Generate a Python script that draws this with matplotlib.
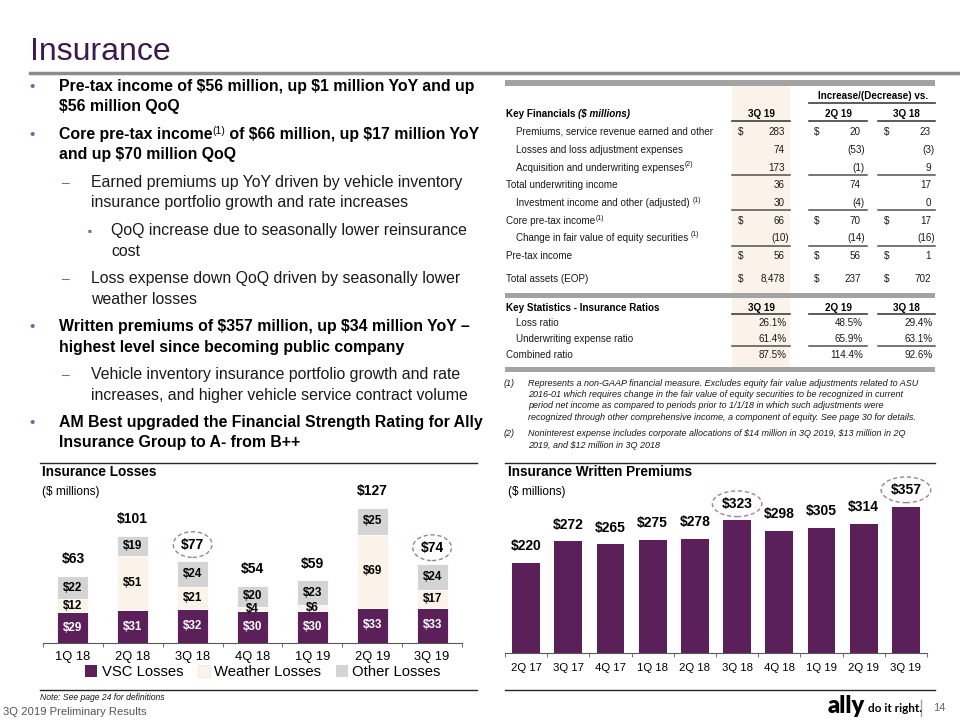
import matplotlib.pyplot as plt
import numpy as np
from matplotlib.lines import Line2D
from matplotlib.patches import Rectangle, Patch

plt.rcParams['font.family'] = ['Liberation Sans', 'DejaVu Sans']
plt.rcParams['text.parse_math'] = False

# --- data -------------------------------------------------------------
loss_q = ['1Q 18', '2Q 18', '3Q 18', '4Q 18', '1Q 19', '2Q 19', '3Q 19']
vsc_losses = np.array([29, 31, 32, 30, 30, 33, 33])
weather_losses = np.array([12, 51, 21, 4, 6, 69, 17])
other_losses = np.array([22, 19, 24, 20, 23, 25, 24])

wp_q = ['2Q 17', '3Q 17', '4Q 17', '1Q 18', '2Q 18', '3Q 18', '4Q 18', '1Q 19', '2Q 19', '3Q 19']
written_prem = [220, 272, 265, 275, 278, 323, 298, 305, 314, 357]

fin_labels = ['Premiums, service revenue earned and other', 'Losses and loss adjustment expenses',
              'Acquisition and underwriting expenses', 'Total underwriting income',
              'Investment income and other (adjusted) ', 'Core pre-tax income',
              'Change in fair value of equity securities ', 'Pre-tax income', 'Total assets (EOP)']
fin_sup = ['', '', '(2)', '', '(1)', '(1)', '(1)', '', '']
fin_indent = [1, 1, 1, 0, 1, 0, 1, 0, 0]
fin_dollar = [1, 0, 0, 0, 0, 1, 0, 1, 1]
fin_3q19 = ['283', '74', '173', '36', '30', '66', '(10)', '56', '8,478']
fin_vs_2q19 = ['20', '(53)', '(1)', '74', '(4)', '70', '(14)', '56', '237']
fin_vs_3q18 = ['23', '(3)', '9', '17', '0', '17', '(16)', '1', '702']

stat_labels = ['Loss ratio', 'Underwriting expense ratio', 'Combined ratio']
stat_indent = [1, 1, 0]
stat_3q19 = [26.1, 61.4, 87.5]
stat_2q19 = [48.5, 65.9, 114.4]
stat_3q18 = [29.4, 63.1, 92.6]

purple = '#5B1F5A'
beige = '#FBF3EA'
grey = '#D4D4D4'
blue = '#5470A8'
ring = '#A57BA5'

fig = plt.figure(figsize=(9.6, 7.2), dpi=100)
W, H = 960, 720
renderer = fig.canvas.get_renderer()


def text(x, y, s, **kw):
    kw.setdefault('va', 'center')
    return fig.text(x / W, 1 - y / H, s, **kw)


def hline(x0, x1, y, **kw):
    fig.add_artist(Line2D([x0 / W, x1 / W], [1 - y / H] * 2, transform=fig.transFigure, **kw))


def box(x0, y0, x1, y1, color):
    fig.add_artist(Rectangle((x0 / W, 1 - y1 / H), (x1 - x0) / W, (y1 - y0) / H,
                             transform=fig.transFigure, color=color, lw=0, zorder=0))


def runs(x, y, parts):
    # draw pieces of text one after the other (for superscripts)
    for s, kw in parts:
        kw = dict(kw)
        dy = kw.pop('dy', 0)
        t = text(x, y + dy, s, **kw)
        x += t.get_window_extent(renderer).width


# --- title ------------------------------------------------------------
text(30, 60, 'Insurance', fontsize=23, color='#3B1B4A', va='baseline')
hline(30, 960, 73, color='#8C8C8C', lw=2.5)

# --- bullets ----------------------------------------------------------
bold = dict(fontsize=11.45, fontweight='bold', color='black')
reg = dict(fontsize=11.4, color='#1A1A1A')


def bullet(y, kind):
    if kind == 0:
        text(32, y, '•', fontsize=11, color=blue, ha='center')
    elif kind == 1:
        text(66, y, '–', fontsize=10, color=blue, ha='center')
    else:
        text(89, y, '■', fontsize=4.5, color=blue, ha='center')


bullet(87, 0)
text(59, 87, 'Pre-tax income of $56 million, up $1 million YoY and up', **bold)
text(59, 107, '$56 million QoQ', **bold)
bullet(135, 0)
runs(59, 135, [('Core pre-tax income', bold),
               ('(1)', dict(fontsize=7.5, color='black', dy=-4)),
               (' of $66 million, up $17 million YoY', bold)])
text(59, 155, 'and up $70 million QoQ', **bold)
bullet(183, 1)
text(91, 183, 'Earned premiums up YoY driven by vehicle inventory', **reg)
text(91, 203, 'insurance portfolio growth and rate increases', **reg)
bullet(231, 2)
text(111, 231, 'QoQ increase due to seasonally lower reinsurance', **reg)
text(111, 251, 'cost', **reg)
bullet(279, 1)
text(91, 279, 'Loss expense down QoQ driven by seasonally lower', **reg)
text(91, 299, 'weather losses', **reg)
bullet(327, 0)
text(59, 327, 'Written premiums of $357 million, up $34 million YoY –', **bold)
text(59, 347, 'highest level since becoming public company', **bold)
bullet(375, 1)
text(91, 375, 'Vehicle inventory insurance portfolio growth and rate', **reg)
text(91, 395, 'increases, and higher vehicle service contract volume', **reg)
bullet(423, 0)
text(59, 423, 'AM Best upgraded the Financial Strength Rating for Ally', **bold)
text(59, 443, 'Insurance Group to A- from B++', **bold)

# --- table ------------------------------------------------------------
tfs = 7.1
tk = dict(fontsize=tfs, color='#1A1A1A')
tb = dict(fontsize=tfs, color='black', fontweight='bold')
box(505, 80, 935, 86, '#A3A3A3')
box(505, 293, 935, 298, '#A3A3A3')
box(505, 367, 935, 372, '#A3A3A3')
box(732, 86, 790, 293, beige)
box(732, 298, 790, 367, beige)

cols_r = [785, 861, 931]
cols_d = [741, 817, 887]
cols_u = [(732, 790), (809, 867), (878, 935)]

text(873, 96, 'Increase/(Decrease) vs.', ha='center', **tb)
hline(809, 935, 103, color='#404040', lw=1.2)
runs(506, 114, [('Key Financials ', tb), ('($ millions)', dict(tb, style='italic'))])
for (u0, u1), q in zip(cols_u, ['3Q 19', '2Q 19', '3Q 18']):
    text((u0 + u1) / 2, 114, q, ha='center', **tb)
    hline(u0, u1, 121, color='#404040', lw=1.2)

row_y = [132, 150, 168, 185, 203, 221, 238, 256, 279]
for i, lab in enumerate(fin_labels):
    y = row_y[i]
    parts = [(lab, tk)]
    if fin_sup[i]:
        parts.append((fin_sup[i], dict(fontsize=5, color='#1A1A1A', dy=-3)))
    runs(516 if fin_indent[i] else 506, y, parts)
    for xr, xd, v in zip(cols_r, cols_d, [fin_3q19[i], fin_vs_2q19[i], fin_vs_3q18[i]]):
        text(xr + (3.5 if v.endswith(')') else 0), y, v, ha='right', **tk)
        if fin_dollar[i]:
            text(xd, y, '$', ha='center', **tk)
for y in [175, 210, 246]:
    for u0, u1 in cols_u:
        hline(u0, u1, y, color='#505050', lw=1.1)

text(506, 308, 'Key Statistics - Insurance Ratios', **tb)
for (u0, u1), q in zip(cols_u, ['3Q 19', '2Q 19', '3Q 18']):
    text((u0 + u1) / 2, 308, q, ha='center', **tb)
    hline(u0, u1, 314, color='#404040', lw=1.2)
for i, lab in enumerate(stat_labels):
    y = [323, 339, 355][i]
    text(516 if stat_indent[i] else 506, y, lab, **tk)
    for xr, v in zip(cols_r, [stat_3q19[i], stat_2q19[i], stat_3q18[i]]):
        text(xr + 2, y, f'{v:.1f}%', ha='right', **tk)
for u0, u1 in cols_u:
    hline(u0, u1, 346, color='#505050', lw=1.1)

fn = dict(fontsize=6.5, style='italic', color='#1A1A1A')
text(504, 383, '(1)', **fn)
for k, s in enumerate(['Represents a non-GAAP financial measure. Excludes equity fair value adjustments related to ASU',
                       '2016-01 which requires change in the fair value of equity securities to be recognized in current',
                       'period net income as compared to periods prior to 1/1/18 in which such adjustments were',
                       'recognized through other comprehensive income, a component of equity. See page 30 for details.']):
    text(528, 383 + 11.5 * k, s, **fn)
text(504, 433, '(2)', **fn)
text(528, 433, 'Noninterest expense includes corporate allocations of $14 million in 3Q 2019, $13 million in 2Q', **fn)
text(528, 445, '2019, and $12 million in 3Q 2018', **fn)

# --- insurance losses chart -------------------------------------------
hline(40, 477, 463, color='#262626', lw=1)
hline(40, 477, 690, color='#262626', lw=1)
text(42, 472, 'Insurance Losses', fontsize=9.8, fontweight='bold', color='black')
text(42, 492, '($ millions)', fontsize=8.6, color='black')

ax1 = fig.add_axes([43 / W, 1 - 643 / H, 419 / W, 173 / H])
xl = np.arange(len(loss_q))
bw = 0.52
c1 = ax1.bar(xl, vsc_losses, bw, color=purple, edgecolor='white', lw=0.6)
c2 = ax1.bar(xl, weather_losses, bw, bottom=vsc_losses, color=beige, edgecolor='white', lw=0.6)
c3 = ax1.bar(xl, other_losses, bw, bottom=vsc_losses + weather_losses, color=grey, edgecolor='white', lw=0.6)
seg = dict(label_type='center', fontsize=8.4, fontweight='bold')
ax1.bar_label(c1, labels=[f'${v}' for v in vsc_losses], color='white', **seg)
ax1.bar_label(c2, labels=[f'${v}' for v in weather_losses], color='black', **seg)
ax1.bar_label(c3, labels=[f'${v}' for v in other_losses], color='black', **seg)
totals = vsc_losses + weather_losses + other_losses
tl = ax1.bar_label(c3, labels=[f'${v}' for v in totals], padding=7, fontsize=10, fontweight='bold')
for i in [2, 6]:
    tl[i].set_bbox(dict(boxstyle='ellipse,pad=0.15', fc='none', ec=ring, ls=(0, (3, 2)), lw=1))
ax1.set_xlim(-0.5, len(loss_q) - 0.5)
ax1.set_ylim(0, 163)
ax1.set_xticks(xl, loss_q, fontsize=9.3)
ax1.set_xticks(np.arange(-0.5, len(loss_q)), minor=True)
ax1.tick_params(axis='x', which='major', length=0, pad=6)
ax1.tick_params(axis='x', which='minor', length=3, color='#595959')
ax1.set_yticks([])
for s in ['top', 'right', 'left']:
    ax1.spines[s].set_visible(False)
ax1.spines['bottom'].set_color('#595959')
ax1.patch.set_alpha(0)
handles = [Patch(facecolor=purple), Patch(facecolor=beige, edgecolor='#EDE5DC', lw=0.5), Patch(facecolor=grey)]
ax1.legend(handles, ['VSC Losses', 'Weather Losses', 'Other Losses'], loc='center',
           bbox_to_anchor=(0.525, -0.168), ncol=3, frameon=False, fontsize=10.7,
           handlelength=0.8, handleheight=0.8, handletextpad=0.3, columnspacing=1.0)

# --- written premiums chart --------------------------------------------
hline(505, 935, 463, color='#262626', lw=1)
hline(505, 935, 690, color='#262626', lw=1)
text(508, 472, 'Insurance Written Premiums', fontsize=9.8, fontweight='bold', color='black')
text(508, 492, '($ millions)', fontsize=8.6, color='black')

ax2 = fig.add_axes([505 / W, 1 - 653 / H, 422 / W, 183 / H])
xw = np.arange(len(wp_q))
cw = ax2.bar(xw, written_prem, 0.66, color=purple)
wl = ax2.bar_label(cw, labels=[f'${v}' for v in written_prem], padding=7, fontsize=10, fontweight='bold')
for i in [5, 9]:
    wl[i].set_bbox(dict(boxstyle='ellipse,pad=0.15', fc='none', ec=ring, ls=(0, (3, 2)), lw=1))
ax2.set_xlim(-0.5, len(wp_q) - 0.5)
ax2.set_ylim(0, 446)
ax2.set_xticks(xw, wp_q, fontsize=8.2)
ax2.set_xticks(np.arange(-0.5, len(wp_q)), minor=True)
ax2.tick_params(axis='x', which='major', length=0, pad=7)
ax2.tick_params(axis='x', which='minor', length=3, color='#595959')
ax2.set_yticks([])
for s in ['top', 'right', 'left']:
    ax2.spines[s].set_visible(False)
ax2.spines['bottom'].set_color('#595959')
ax2.patch.set_alpha(0)

# --- footer -----------------------------------------------------------
text(40, 698, 'Note: See page 24 for definitions', fontsize=6.2, style='italic', color='#1A1A1A')
text(3, 712, '3Q 2019 Preliminary Results', fontsize=8.1, color='#555555')
text(865, 706, 'ally', fontsize=17, fontweight='heavy', family=['Lato', 'DejaVu Sans'],
     color='black', ha='right')
text(868, 708, 'do it right.', fontsize=8.5, fontweight='bold', family=['Lato', 'DejaVu Sans'], color='black')
fig.add_artist(Line2D([921 / W] * 2, [1 - 700 / H, 1 - 716 / H], transform=fig.transFigure,
                      color='#A0A0A0', lw=1))
text(933, 708, '14', fontsize=8, color='#666666')

fig.savefig('out.png', dpi=100)
